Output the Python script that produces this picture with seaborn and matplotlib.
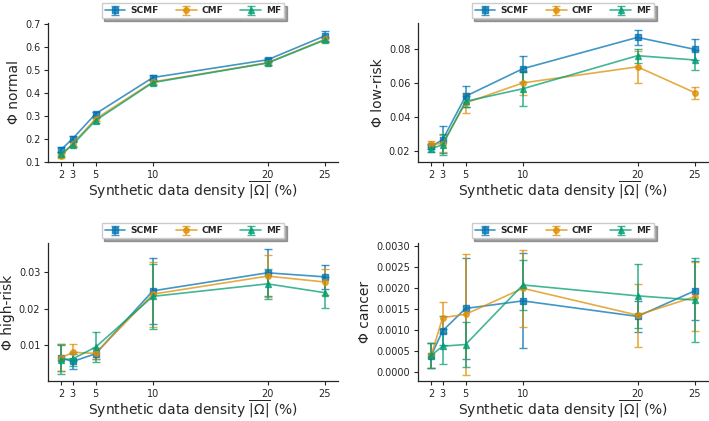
import numpy as np
import matplotlib
matplotlib.use("Agg")
import matplotlib.pyplot as plt
import seaborn as sns

density = [2, 3, 5, 10, 20, 25]
methods = ["SCMF", "CMF", "MF"]
markers = {"SCMF": "s", "CMF": "o", "MF": "^"}

# Phi normal
normal_scmf = [0.153, 0.200, 0.308, 0.466, 0.543, 0.647]
normal_cmf = [0.124, 0.178, 0.286, 0.447, 0.530, 0.632]
normal_mf = [0.134, 0.174, 0.279, 0.444, 0.529, 0.629]
normal_scmf_err = [0.010, 0.010, 0.010, 0.010, 0.010, 0.022]
normal_cmf_err = [0.008, 0.010, 0.010, 0.010, 0.010, 0.010]
normal_mf_err = [0.008, 0.010, 0.010, 0.010, 0.010, 0.010]

# Phi low-risk
low_scmf = [0.0229, 0.0268, 0.0522, 0.0683, 0.0866, 0.0796]
low_cmf = [0.0243, 0.0245, 0.0483, 0.0600, 0.0694, 0.0543]
low_mf = [0.0216, 0.0239, 0.0492, 0.0566, 0.0759, 0.0734]
low_scmf_err = [0.0015, 0.0080, 0.0060, 0.0076, 0.0045, 0.0060]
low_cmf_err = [0.0020, 0.0050, 0.0058, 0.0070, 0.0092, 0.0035]
low_mf_err = [0.0020, 0.0060, 0.0030, 0.0098, 0.0040, 0.0060]

# Phi high-risk
high_scmf = [0.0066, 0.0056, 0.0077, 0.0248, 0.0297, 0.0286]
high_cmf = [0.0066, 0.0081, 0.0078, 0.0239, 0.0288, 0.0272]
high_mf = [0.0061, 0.0063, 0.0095, 0.0233, 0.0267, 0.0243]
high_scmf_err = [0.0037, 0.0020, 0.0015, 0.0090, 0.0064, 0.0033]
high_cmf_err = [0.0037, 0.0023, 0.0015, 0.0088, 0.0058, 0.0035]
high_mf_err = [0.0040, 0.0020, 0.0040, 0.0088, 0.0040, 0.0042]

# Phi cancer
cancer_scmf = [0.000395, 0.000987, 0.00152, 0.00170, 0.00133, 0.00194]
cancer_cmf = [0.00040, 0.00130, 0.00138, 0.00200, 0.00136, 0.00180]
cancer_mf = [0.00040, 0.00062, 0.00066, 0.00208, 0.00182, 0.00172]
cancer_scmf_err = [0.00030, 0.00035, 0.00120, 0.00113, 0.00036, 0.00070]
cancer_cmf_err = [0.00030, 0.00037, 0.00144, 0.00092, 0.00075, 0.00082]
cancer_mf_err = [0.00030, 0.00042, 0.00053, 0.00060, 0.00076, 0.00100]

panels = [
    ("Φ normal", [normal_scmf, normal_cmf, normal_mf],
     [normal_scmf_err, normal_cmf_err, normal_mf_err], (0.0987, 0.703), None),
    ("Φ low-risk", [low_scmf, low_cmf, low_mf],
     [low_scmf_err, low_cmf_err, low_mf_err], (0.0138, 0.095), [0.02, 0.04, 0.06, 0.08]),
    ("Φ high-risk", [high_scmf, high_cmf, high_mf],
     [high_scmf_err, high_cmf_err, high_mf_err], (0.0003, 0.0378), [0.01, 0.02, 0.03]),
    ("Φ cancer", [cancer_scmf, cancer_cmf, cancer_mf],
     [cancer_scmf_err, cancer_cmf_err, cancer_mf_err], (-0.00021, 0.00308),
     [0.0, 0.0005, 0.0010, 0.0015, 0.0020, 0.0025, 0.0030]),
]

sns.set_theme(style="ticks", palette="colorblind")
plt.rcParams["font.family"] = ["DejaVu Sans"]
colors = sns.color_palette("colorblind", 3)

fig = plt.figure(figsize=(7.09, 4.21), dpi=100)
W, H = 709, 421
boxes = [(48, 23, 338, 162), (418, 23, 708, 162), (48, 243, 338, 381), (418, 243, 708, 381)]

for (title, vals, errs, ylim, yticks), (x0, y0, x1, y1) in zip(panels, boxes):
    ax = fig.add_axes([x0 / W, 1 - y1 / H, (x1 - x0) / W, (y1 - y0) / H])
    for m, v, e, c in zip(methods, vals, errs, colors):
        ax.errorbar(density, v, yerr=e, color=c, marker=markers[m], markersize=4,
                    linewidth=1.2, capsize=3, elinewidth=1.2, alpha=0.75, label=m)
    ax.set_xticks(density)
    ax.set_xticklabels([str(d) for d in density])
    ax.set_xlim(0.85, 26.15)
    ax.set_ylim(*ylim)
    if yticks is not None:
        ax.set_yticks(yticks)
        if title == "Φ cancer":
            ax.set_yticklabels([f"{t:.4f}" for t in yticks])
    ax.tick_params(labelsize=7, length=3, width=0.8, pad=2.5)
    ax.set_xlabel(r"Synthetic data density $\overline{|\Omega|}$ (%)", fontsize=10, labelpad=0)
    ax.set_ylabel(title, fontsize=10, labelpad=3)
    for s in ax.spines.values():
        s.set_linewidth(0.9)
    sns.despine(ax=ax)
    leg = ax.legend(loc="lower center", bbox_to_anchor=(0.5, 1.0), ncol=3, shadow=True,
                    fancybox=False, prop={"size": 6.5, "weight": "bold"},
                    borderaxespad=0.5, handlelength=2.3, handletextpad=0.55,
                    columnspacing=1.9, borderpad=0.35, framealpha=1)
    leg.get_frame().set_edgecolor("#cccccc")

fig.savefig("out.png", dpi=100)
